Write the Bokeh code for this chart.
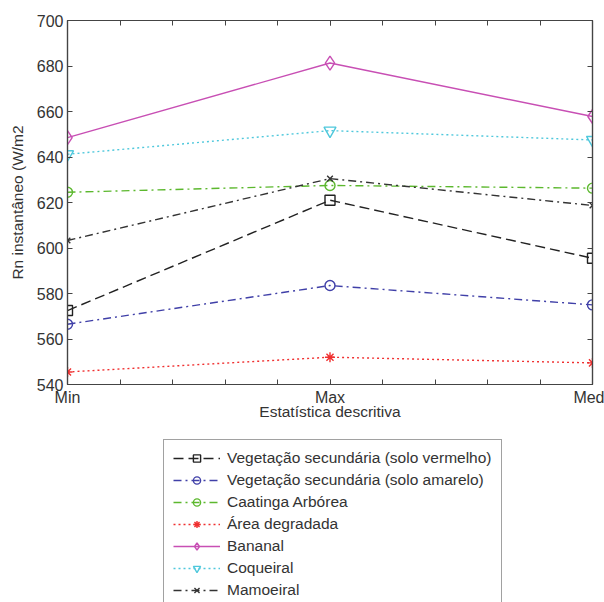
from bokeh.plotting import figure
from bokeh.layouts import column
from bokeh.models import (Range1d, FixedTicker, LinearAxis, Legend, LegendItem,
                          CustomJSTickFormatter)
from bokeh.embed import file_html
from bokeh.resources import INLINE

# ---- data ----
categories = ["Min", "Max", "Med"]
cat_x = [1, 2, 3]

veg_vermelho = [572.5, 621.0, 595.5]
veg_amarelo = [566.5, 583.5, 575.0]
caatinga = [624.5, 627.5, 626.3]
area_degradada = [545.5, 552.0, 549.5]
bananal = [648.5, 681.3, 657.8]
coqueiral = [641.2, 651.6, 647.5]
mamoeiral = [603.3, 630.5, 618.7]

series_names = [
    "Vegetação secundária (solo vermelho)",
    "Vegetação secundária (solo amarelo)",
    "Caatinga Arbórea",
    "Área degradada",
    "Bananal",
    "Coqueiral",
    "Mamoeiral",
]
y_ticks = [540, 560, 580, 600, 620, 640, 660, 680, 700]

FONT = "Liberation Sans"
TXT = "#333333"

p = figure(width=604, height=430, output_backend="svg", toolbar_location=None,
           x_range=Range1d(1, 3), y_range=Range1d(540, 700),
           min_border_left=67, min_border_right=12, min_border_top=20,
           min_border_bottom=46, background_fill_color="white",
           border_fill_color="white")
p.grid.visible = False
p.outline_line_color = "#444444"
p.outline_line_width = 1.2

minor = [1 + 0.2 * k for k in range(11)]

def style_axis(ax):
    ax.axis_line_color = "#444444"
    ax.axis_line_width = 1.2
    ax.major_tick_in = 5
    ax.major_tick_out = 0
    ax.minor_tick_in = 5
    ax.minor_tick_out = 0
    ax.major_tick_line_color = "#444444"
    ax.minor_tick_line_color = "#444444"
    ax.major_label_text_font = FONT
    ax.major_label_text_font_size = "16px"
    ax.major_label_text_color = TXT
    ax.axis_label_text_font = FONT
    ax.axis_label_text_font_size = "15.5px"
    ax.axis_label_text_color = TXT
    ax.axis_label_text_font_style = "normal"

xa = p.xaxis[0]
xa.ticker = FixedTicker(ticks=cat_x, minor_ticks=minor)
xa.major_label_overrides = {x: c for x, c in zip(cat_x, categories)}
xa.axis_label = "Estatística descritiva"
style_axis(xa)
xa.major_label_standoff = 4
xa.axis_label_standoff = -6

ya = p.yaxis[0]
ya.ticker = FixedTicker(ticks=y_ticks, minor_ticks=[])
ya.axis_label = "Rn instantâneo (W/m2"
style_axis(ya)
ya.major_label_standoff = 4
ya.axis_label_standoff = 8

blank = CustomJSTickFormatter(code="return ''")
top = LinearAxis(ticker=FixedTicker(ticks=cat_x, minor_ticks=minor), formatter=blank)
style_axis(top)
top.major_label_text_font_size = "0px"
right = LinearAxis(ticker=FixedTicker(ticks=y_ticks, minor_ticks=[]), formatter=blank)
style_axis(right)
right.major_label_text_font_size = "0px"
p.add_layout(top, "above")
p.add_layout(right, "right")

# legend panel (a second figure whose glyphs fall outside its view)
p2 = figure(width=604, height=172, output_backend="svg", toolbar_location=None,
            x_range=Range1d(100, 101), y_range=Range1d(0, 1),
            min_border=0, min_border_left=0, min_border_right=0,
            min_border_top=0, min_border_bottom=0,
            background_fill_color="white", border_fill_color="white")
p2.axis.visible = False
p2.grid.visible = False
p2.outline_line_color = None

specs = [
    (veg_vermelho, "#222222", "10 5", "square", 10),
    (veg_amarelo, "#4040a8", "8 4 2 4", "circle", 10),
    (caatinga, "#5cb82e", "8 4 2 4", "circle", 10),
    (area_degradada, "#f03030", "2 3", "asterisk", 10),
    (bananal, "#c84fb4", "solid", "diamond", 14),
    (coqueiral, "#4fc8dc", "2 3", "inverted_triangle", 12),
    (mamoeiral, "#333333", "8 4 2 4", "x", 8),
]

items = []
for (vals, col, dash, mk, sz), name in zip(specs, series_names):
    glyph_kw = dict(marker=mk, size=sz, line_color=col,
                    fill_color=col if mk == "asterisk" else "white",
                    fill_alpha=1.0 if mk == "asterisk" else 0.0, line_width=1.4)
    p.line(cat_x, vals, line_color=col, line_width=1.4, line_dash=dash)
    p.scatter(cat_x, vals, **glyph_kw)
    l2 = p2.line(cat_x, vals, line_color=col, line_width=1.4, line_dash=dash)
    s2 = p2.scatter(cat_x, vals, **glyph_kw)
    items.append(LegendItem(label=name, renderers=[l2, s2]))

legend = Legend(items=items, location=(96, -7))
legend.label_text_font = FONT
legend.label_text_font_size = "15.5px"
legend.label_text_color = TXT
legend.glyph_width = 47
legend.glyph_height = 18
legend.label_height = 18
legend.label_standoff = 7
legend.spacing = 4
legend.padding = 9
legend.margin = 0
legend.border_line_color = "#444444"
legend.border_line_width = 1.2
legend.background_fill_color = "white"
legend.background_fill_alpha = 1.0
p2.add_layout(legend, "center")

layout = column(p, p2, spacing=0)
open("out.html", "w").write(file_html(layout, INLINE))
